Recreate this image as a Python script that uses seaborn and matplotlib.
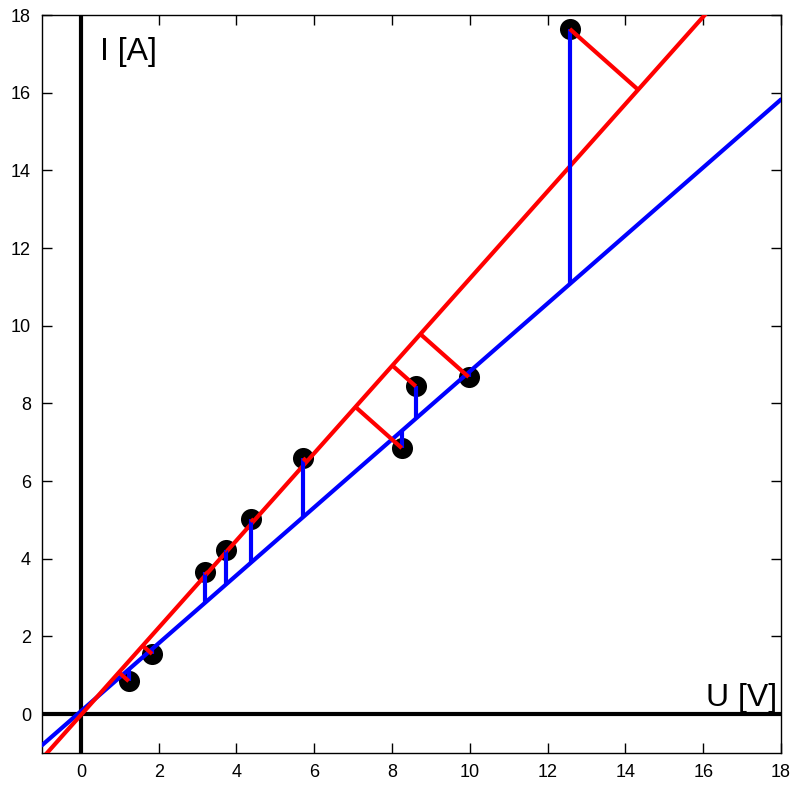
import numpy as np
import pandas as pd
import matplotlib
matplotlib.use("Agg")
import matplotlib.pyplot as plt
import seaborn as sns

# Data
U = [1.23, 1.83, 3.19, 3.73, 4.37, 5.71, 8.25, 8.61, 9.97, 12.57]
I = [0.85, 1.55, 3.66, 4.22, 5.02, 6.59, 6.85, 8.44, 8.68, 17.64]
blue_line = {"slope": 0.875, "intercept": 0.075}   # vertical-residual line
red_line = {"slope": 1.1236, "intercept": -0.022}  # orthogonal-residual line
x_ticks = [0, 2, 4, 6, 8, 10, 12, 14, 16, 18]
y_ticks = [0, 2, 4, 6, 8, 10, 12, 14, 16, 18]

sns.set_style("ticks")
plt.rcParams["font.family"] = ["Liberation Sans", "DejaVu Sans"]
plt.rcParams["text.color"] = "black"

fig = plt.figure(figsize=(7.94, 7.85), dpi=100)
ax = fig.add_axes([42 / 794, 32 / 785, (781 - 42) / 794, (753 - 15) / 785])

df = pd.DataFrame({"U": U, "I": I})
xr = np.array([-1.0, 18.0])

# coordinate axes
ax.axhline(0, color="black", lw=3, zorder=1)
ax.axvline(0, color="black", lw=3, zorder=1)

# points
sns.scatterplot(data=df, x="U", y="I", s=230, color="black", edgecolor="black",
                linewidth=0, ax=ax, zorder=2)

# fitted lines
bm, bb = blue_line["slope"], blue_line["intercept"]
rm, rb = red_line["slope"], red_line["intercept"]
sns.lineplot(x=xr, y=bm * xr + bb, color="#0000ff", lw=3, ax=ax, zorder=3)
sns.lineplot(x=xr, y=rm * xr + rb, color="#ff0000", lw=3, ax=ax, zorder=3)

# residuals
for u, i in zip(U, I):
    ax.plot([u, u], [i, bm * u + bb], color="#0000ff", lw=3, zorder=4,
            solid_capstyle="butt")
    t = (u + rm * (i - rb)) / (1 + rm ** 2)
    ax.plot([u, t], [i, rm * t + rb], color="#ff0000", lw=3, zorder=4,
            solid_capstyle="butt")

ax.set_xlim(-1, 18)
ax.set_ylim(-1, 18)
ax.set_xticks(x_ticks)
ax.set_yticks(y_ticks)
ax.set_xlabel("")
ax.set_ylabel("")
ax.tick_params(direction="in", length=7, width=1, labelsize=13, top=True,
               right=True, colors="black", labelcolor="black", pad=8)
for s in ax.spines.values():
    s.set_visible(True)
    s.set_linewidth(1)
    s.set_color("black")

ax.text(0.5, 16.85, "I [A]", fontsize=23, ha="left", va="baseline", color="black")
ax.text(17.9, 0.2, "U [V]", fontsize=23, ha="right", va="baseline", color="black")

fig.savefig("out.png", dpi=100)
